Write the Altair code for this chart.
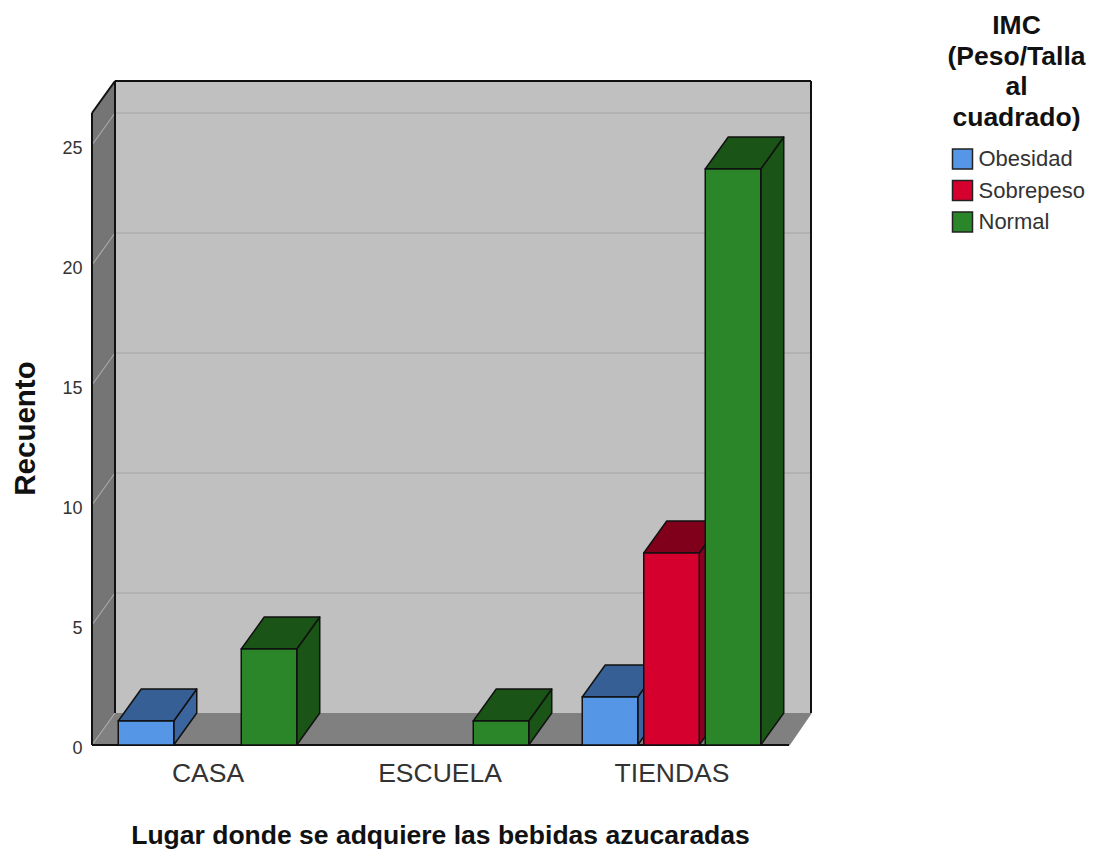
import altair as alt
import pandas as pd

categories = ["CASA", "ESCUELA", "TIENDAS"]
series = ["Obesidad", "Sobrepeso", "Normal"]
obesidad = [1, 0, 2]
sobrepeso = [0, 0, 8]
normal = [4, 1, 24]
y_ticks = [0, 5, 10, 15, 20, 25]

front_colors = ["#5596E6", "#D6002F", "#2A8628"]
top_colors = ["#355F95", "#80001C", "#1A5416"]
side_colors = ["#3A659E", "#8A0020", "#1A5416"]

# layout in pixels of the plot area
W, H = 719, 664
PPU = 24.0
YMAX = H / PPU
DX = 23
DY = 32 / PPU
G0, GSTEP, SLOT, BARW = 115.5, 232.0, 61.5, 55.5
FLOOR_R = 697
WALL_R = 719
INK = "#111111"
FONT = "Liberation Sans"

xs = alt.Scale(domain=[0, W], range=[0, W], nice=False, zero=False)
ys = alt.Scale(domain=[0, YMAX], nice=False, zero=False)
cs = alt.Scale(domain=series, range=front_colors)

cat_centers = [G0 + GSTEP * i for i in range(len(categories))]
label_expr = "{" + ",".join(f"'{c}':'{n}'" for c, n in zip(cat_centers, categories)) + "}[datum.value]"

x_axis = alt.Axis(
    values=cat_centers, labelExpr=label_expr, title="Lugar donde se adquiere las bebidas azucaradas",
    domain=False, ticks=False, grid=False, labelFont=FONT, labelFontSize=26.5,
    labelColor="#333333", labelPadding=15, labelAngle=0, labelFlush=False, labelOverlap=False,
    titleFont=FONT, titleFontWeight="bold", titleFontSize=26.5, titleColor="#111111",
    titleX=348, titleY=90, titleBaseline="middle", titleAnchor="middle", titleAlign="center",
    titleLimit=800,
)
y_axis = alt.Axis(
    values=y_ticks, title="Recuento", domain=False, ticks=False, grid=False,
    labelFont=FONT, labelFontSize=18, labelColor="#333333", labelPadding=10, labelOverlap=False,
    labelOffset=3,
    titleFont=FONT, titleFontWeight="bold", titleFontSize=29.5, titleColor="#111111",
    titleX=-67, titleY=347, titleBaseline="middle", titleAnchor="middle", titleAlign="center",
)


def X():
    return alt.X("x:Q", scale=xs, axis=x_axis)


def Y():
    return alt.Y("y:Q", scale=ys, axis=y_axis)


def area(rows, fill, stroke=None, sw=1.5):
    kw = dict(fill=fill, orient="vertical", interpolate="linear")
    if stroke:
        kw.update(stroke=stroke, strokeWidth=sw, strokeJoin="round")
    return alt.Chart(pd.DataFrame(rows, columns=["x", "y", "y2"])).mark_area(**kw).encode(
        x=X(), y=Y(), y2="y2:Q"
    )


def lines(segs, color, sw):
    rows = []
    for i, (a, b) in enumerate(segs):
        rows.append({"k": i, "o": 0, "x": a[0], "y": a[1]})
        rows.append({"k": i, "o": 1, "x": b[0], "y": b[1]})
    return alt.Chart(pd.DataFrame(rows)).mark_line(color=color, strokeWidth=sw).encode(
        x=X(), y=Y(), detail="k:N", order="o:Q"
    )


layers = []
# back wall
layers.append(
    alt.Chart(pd.DataFrame({"x": [DX], "x2": [WALL_R], "y": [DY], "y2": [YMAX]}))
    .mark_rect(fill="#C0C0C0")
    .encode(x=X(), x2="x2:Q", y=Y(), y2="y2:Q")
)
# left wall and floor
layers.append(area([[0, H / PPU - DY, 0], [DX, YMAX, DY]], "#757575"))
layers.append(area([[0, 0, 0], [DX, DY, 0], [FLOOR_R, DY, 0], [WALL_R, DY, DY]], "#808080"))
# gridlines
layers.append(lines([((DX, v + DY), (WALL_R, v + DY)) for v in y_ticks if v > 0], "#AEAEAE", 1.5))
layers.append(lines([((0, v), (DX, v + DY)) for v in y_ticks], "#A8A8A8", 1.2))
# frame
layers.append(lines([((FLOOR_R, 0), (WALL_R, DY))], "#808080", 1.5))
layers.append(
    lines(
        [
            ((0, 0), (0, YMAX - DY)),
            ((0, YMAX - DY), (DX, YMAX)),
            ((DX, YMAX), (WALL_R, YMAX)),
            ((DX, DY), (DX, YMAX)),
            ((WALL_R, DY), (WALL_R, YMAX)),
            ((0, 0), (FLOOR_R, 0)),
        ],
        INK,
        2,
    )
)

# bars: one block per non-zero value, left to right
values = [obesidad, sobrepeso, normal]
for ci in range(len(categories)):
    for si, name in enumerate(series):
        v = values[si][ci]
        if v == 0:
            continue
        x0 = cat_centers[ci] + (si - 1) * SLOT - BARW / 2
        x1 = x0 + BARW
        layers.append(area([[x1, v, 0], [x1 + DX, v + DY, DY]], side_colors[si], INK))
        layers.append(
            area(
                [[x0, v, v], [x0 + DX, v + DY, v], [x1, v + DY, v], [x1 + DX, v + DY, v + DY]],
                top_colors[si],
                INK,
            )
        )
        layers.append(
            alt.Chart(pd.DataFrame({"x": [x0], "x2": [x1], "y": [0.0], "y2": [v], "s": [name]}))
            .mark_rect(stroke=INK, strokeWidth=1.5)
            .encode(
                x=X(),
                x2="x2:Q",
                y=Y(),
                y2="y2:Q",
                fill=alt.Fill(
                    "s:N",
                    scale=cs,
                    legend=alt.Legend(
                        title=["IMC", "(Peso/Talla", "al", "cuadrado)"],
                        orient="none",
                        legendX=855.5,
                        legendY=-68,
                        titleFont=FONT,
                        titleFontWeight="bold",
                        titleFontSize=26.5,
                        titleColor="#111111",
                        titleLineHeight=30.5,
                        titleAnchor="middle",
                        titleAlign="center",
                        titlePadding=17,
                        titleLimit=300,
                        labelFont=FONT,
                        labelFontSize=22,
                        labelColor="#333333",
                        labelOffset=5,
                        labelLimit=200,
                        symbolType="square",
                        symbolSize=400,
                        symbolOffset=3,
                        symbolStrokeColor="#222222",
                        symbolStrokeWidth=1.5,
                        rowPadding=5.5,
                    ),
                ),
            )
        )

chart = (
    alt.layer(*layers)
    .properties(
        width=W,
        height=H,
        autosize=alt.AutoSizeParams(type="none"),
        padding={"left": 84, "top": 73, "right": 277, "bottom": 105},
    )
    .configure_view(stroke=None)
)

chart.save("out.html", embed_options={"renderer": "svg", "actions": False})
